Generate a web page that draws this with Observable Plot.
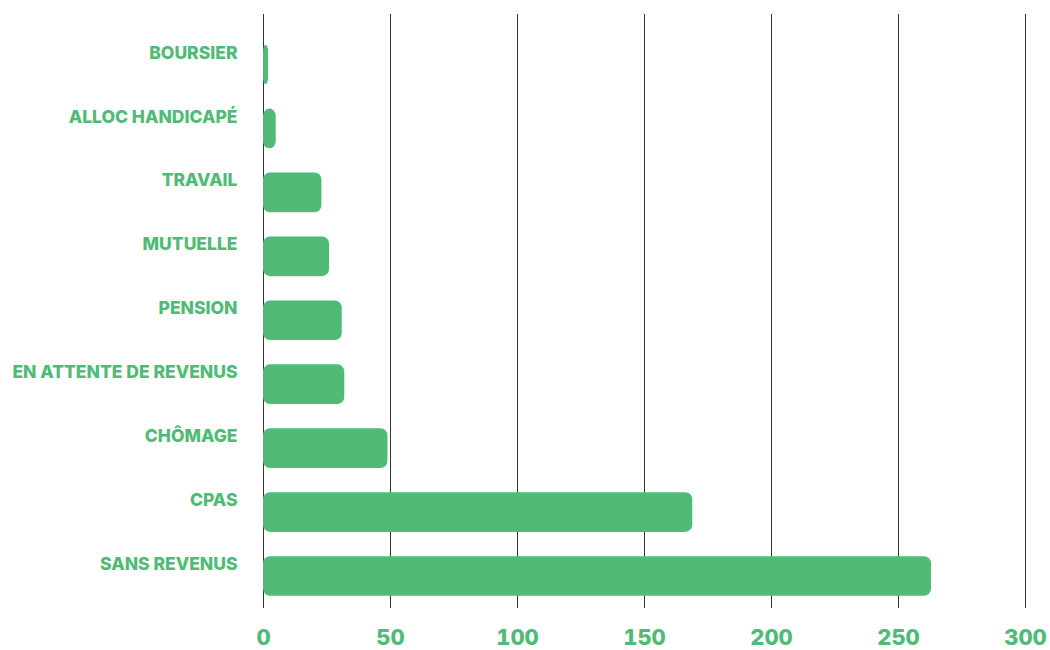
<!DOCTYPE html>
<html>
<head>
<meta charset="utf-8">
<script src="https://cdn.jsdelivr.net/npm/d3@7"></script>
<script src="https://cdn.jsdelivr.net/npm/@observablehq/plot@0.6"></script>
<style>
  html, body { margin: 0; padding: 0; background: #fff; }
  #chart { width: 1050px; height: 650px; }
</style>
</head>
<body>
<div id="chart"></div>
<script>
const categories = ["BOURSIER", "ALLOC HANDICAPÉ", "TRAVAIL", "MUTUELLE", "PENSION", "EN ATTENTE DE REVENUS", "CHÔMAGE", "CPAS", "SANS REVENUS"];
const values = [2, 5, 23, 26, 31, 32, 49, 169, 263];
const xTicks = [0, 50, 100, 150, 200, 250, 300];

const data = categories.map((c, i) => ({category: c, value: values[i]}));
const green = "#4fbb76";
const font = "Inter, 'Open Sans', sans-serif";

const chart = Plot.plot({
  width: 1050,
  height: 650,
  marginLeft: 263,
  marginRight: 25,
  marginTop: 14,
  marginBottom: 42,
  style: {fontFamily: font, background: "#fff"},
  x: {domain: [0, 300], ticks: xTicks},
  y: {domain: categories, paddingInner: 0.38, paddingOuter: 0.19, insetTop: 18.5, round: false},
  marks: [
    Plot.ruleX(xTicks, {stroke: "#333", strokeWidth: 1}),
    Plot.barX(data, {x: "value", y: "category", fill: green, rx: 7}),
    Plot.axisX(xTicks, {tickSize: 0, tickPadding: 21, fontSize: 22, fontWeight: 800, fill: green, label: null, tickFormat: d => String(d)}),
    Plot.axisY({tickSize: 0, tickPadding: 26, fontSize: 17.5, fontWeight: 800, fill: green, dy: -12, label: null})
  ]
});
document.getElementById("chart").append(chart);
</script>
</body>
</html>
